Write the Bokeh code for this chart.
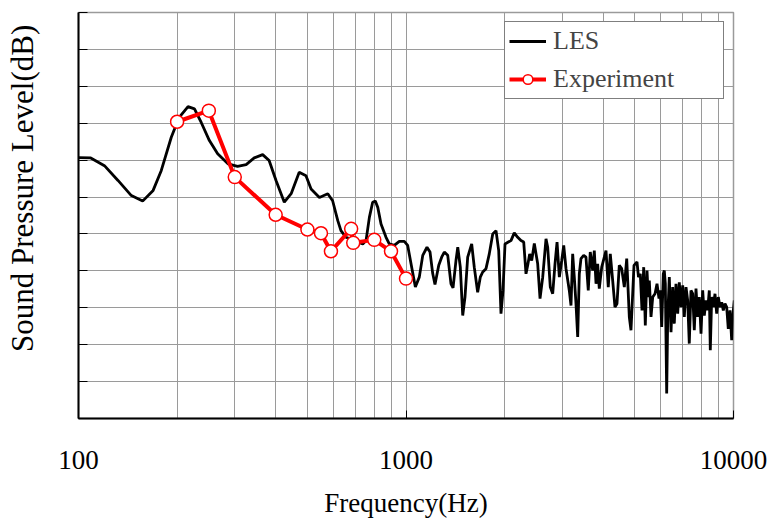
from bokeh.plotting import figure
from bokeh.models import Range1d, FixedTicker, Legend, LegendItem, BasicTickFormatter
from bokeh.embed import file_html
from bokeh.resources import INLINE

# LES spectrum (frequency in Hz, level in grid units; y-axis has no printed values)
les_freq = [100, 109, 120, 132, 145, 157, 169, 179, 192, 203, 216, 226, 237, 251, 266, 286, 306, 325, 344, 365,
            382, 401, 425, 446, 472, 495, 513, 544, 577, 597, 619, 633, 656, 695, 738, 755, 773, 791, 806, 820,
            839, 869, 889, 921, 954, 988, 1012, 1036, 1068, 1098, 1125, 1159, 1184, 1207, 1226, 1259, 1285, 1309,
            1341, 1372, 1392, 1421, 1439, 1465, 1490, 1514, 1543, 1587, 1616, 1655, 1686, 1715, 1755, 1796, 1840,
            1883, 1919, 1950, 1978, 2006, 2053, 2092, 2141, 2193, 2244, 2288, 2325, 2353, 2386, 2420, 2465, 2524,
            2566, 2615, 2676, 2708, 2758, 2805, 2851, 2892, 2939, 2989, 3031, 3080, 3152, 3190, 3228, 3265, 3304,
            3344, 3382, 3422, 3488, 3544, 3602, 3653, 3716, 3758, 3804, 3848, 3892, 3959, 4032, 4080, 4146, 4205,
            4276, 4346, 4408, 4480, 4556, 4641, 4720, 4807, 4864, 4968, 5074, 5128, 5193, 5256, 5319, 5379, 5444,
            5493, 5533, 5599, 5667, 5759, 5840, 5923, 5977, 6037, 6104, 6148, 6192, 6252, 6297, 6368, 6445, 6521,
            6595, 6674, 6755, 6831, 6914, 6997, 7076, 7161, 7246, 7328, 7416, 7506, 7591, 7682, 7775, 7863, 7958,
            8052, 8144, 8241, 8340, 8435, 8495, 8578, 8676, 8780, 8886, 8987, 9095, 9204, 9308, 9419, 9533, 9640,
            9757, 9874, 9945, 10056, 10120, 10190, 10250]
les_level = [70.7, 70.6, 68.5, 64.5, 60.4, 58.9, 61.8, 67.2, 76.2, 81.6, 84.5, 83.9, 80.2, 75.3, 71.7, 69.0, 68.3,
             68.8, 70.6, 71.5, 69.9, 64.5, 58.6, 60.9, 66.7, 65.8, 62.2, 59.9, 60.9, 59.0, 53.6, 50.9, 49.1, 48.2,
             47.3, 48.2, 54.5, 58.6, 58.9, 57.2, 52.7, 49.1, 47.3, 46.9, 48.0, 48.0, 46.9, 41.9, 35.6, 38.3, 44.2,
             46.4, 45.1, 39.2, 36.3, 41.5, 43.7, 45.1, 44.2, 36.5, 35.4, 42.8, 46.4, 41.0, 27.9, 32.9, 43.7, 47.3,
             41.0, 34.2, 38.3, 39.7, 40.6, 44.6, 50.0, 50.9, 45.5, 28.4, 34.7, 47.3, 47.8, 48.2, 50.3, 49.1, 48.2,
             47.8, 39.2, 41.5, 44.6, 42.8, 47.4, 41.9, 32.5, 38.3, 48.7, 46.4, 35.6, 33.8, 41.9, 47.8, 38.3, 42.8,
             46.9, 40.6, 34.7, 30.6, 44.6, 38.3, 31.1, 22.1, 39.2, 43.3, 44.2, 43.7, 34.7, 45.1, 40.1, 45.5, 36.5,
             41.9, 35.2, 41.0, 43.7, 45.5, 35.6, 44.6, 37.4, 30.2, 31.1, 41.5, 40.6, 35.6, 43.3, 27.5, 23.9, 41.5,
             42.4, 38.3, 39.2, 29.3, 41.0, 25.2, 40.1, 32.9, 37.4, 27.5, 32.9, 33.8, 36.5, 32.5, 34.7, 24.8, 39.2,
             40.1, 36.5, 6.8, 27.5, 38.3, 23.4, 35.6, 25.7, 36.5, 28.4, 36.9, 30.2, 36.1, 27.5, 35.6, 32.0, 20.3,
             34.7, 33.8, 23.9, 35.2, 27.5, 32.9, 23.0, 34.7, 27.9, 32.0, 29.3, 34.7, 18.5, 32.9, 30.2, 33.8, 28.4,
             32.9, 30.2, 31.5, 29.3, 31.1, 30.2, 24.3, 29.3, 21.2, 27.5, 32.0, 27.5, 32.5, 27.0]

# Experiment
exp_freq = [200, 250, 300, 400, 500, 550, 590, 680, 690, 800, 900, 1000]
exp_level = [80.4, 83.4, 65.4, 55.2, 51.2, 50.2, 45.3, 51.4, 47.6, 48.4, 45.3, 37.9]

x_ticks = [100, 1000, 10000]
x_tick_labels = ["100", "1000", "10000"]
x_minor = [200, 300, 400, 500, 600, 700, 800, 900, 2000, 3000, 4000, 5000, 6000, 7000, 8000, 9000]
y_ticks = [0, 10, 20, 30, 40, 50, 60, 70, 80, 90, 100, 110]

FONT = "Liberation Serif"
GRID = "#9a9a9a"

p = figure(width=769, height=520, x_axis_type="log",
           x_range=Range1d(100, 10000), y_range=Range1d(0, 110),
           output_backend="svg", toolbar_location=None,
           min_border_left=78, min_border_right=36, min_border_top=12, min_border_bottom=102)

p.background_fill_color = "white"
p.border_fill_color = "white"
p.outline_line_color = GRID
p.outline_line_width = 1.5

# grids
p.xaxis.ticker = FixedTicker(ticks=x_ticks, minor_ticks=x_minor)
p.yaxis.ticker = FixedTicker(ticks=y_ticks)
p.xgrid.grid_line_color = GRID
p.xgrid.minor_grid_line_color = GRID
p.ygrid.grid_line_color = GRID
p.xgrid.grid_line_width = 1
p.ygrid.grid_line_width = 1

# x axis
p.xaxis.formatter = BasicTickFormatter()
p.xaxis.major_label_overrides = {t: s for t, s in zip(x_ticks, x_tick_labels)}
p.xaxis.axis_line_color = "black"
p.xaxis.axis_line_width = 2
p.xaxis.major_tick_in = 8
p.xaxis.major_tick_out = 0
p.xaxis.minor_tick_in = 0
p.xaxis.minor_tick_out = 0
p.xaxis.major_tick_line_color = "black"
p.xaxis.major_label_text_font = FONT
p.xaxis.major_label_text_font_size = "27px"
p.xaxis.major_label_text_color = "black"
p.xaxis.major_label_standoff = 32
p.xaxis.axis_label = "Frequency(Hz)"
p.xaxis.axis_label_text_font = FONT
p.xaxis.axis_label_text_font_size = "27px"
p.xaxis.axis_label_text_font_style = "normal"
p.xaxis.axis_label_text_color = "black"
p.xaxis.axis_label_standoff = 16

# y axis (no printed values); leading no-break spaces lift the label like the original
p.yaxis.axis_line_color = "black"
p.yaxis.axis_line_width = 2
p.yaxis.major_tick_in = 9
p.yaxis.major_tick_out = 0
p.yaxis.minor_tick_in = 0
p.yaxis.minor_tick_out = 0
p.yaxis.major_tick_line_color = "black"
p.yaxis.major_label_overrides = {t: "" for t in y_ticks}
p.yaxis.major_label_standoff = 0
p.yaxis.axis_label = "\u00a0" * 7 + "Sound Pressure Level(dB)"
p.yaxis.axis_label_text_font = FONT
p.yaxis.axis_label_text_font_size = "31px"
p.yaxis.axis_label_text_font_style = "normal"
p.yaxis.axis_label_text_color = "black"
p.yaxis.axis_label_standoff = 39

les = p.line(les_freq, les_level, line_color="black", line_width=2.8)
exp_line = p.line(exp_freq, exp_level, line_color="red", line_width=4)
exp_pts = p.scatter(exp_freq, exp_level, size=13, fill_color="white",
                    line_color="red", line_width=1.5)

legend = Legend(items=[LegendItem(label="LES", renderers=[les]),
                       LegendItem(label="Experiment", renderers=[exp_line, exp_pts])],
                location="top_right", margin=9, padding=4, spacing=8,
                glyph_width=37, glyph_height=24, label_standoff=7, label_width=166,
                label_text_font=FONT, label_text_font_size="26px",
                border_line_color="black", border_line_width=1.5,
                background_fill_color="white", background_fill_alpha=1.0)
p.add_layout(legend)

open("out.html", "w").write(file_html(p, INLINE))
